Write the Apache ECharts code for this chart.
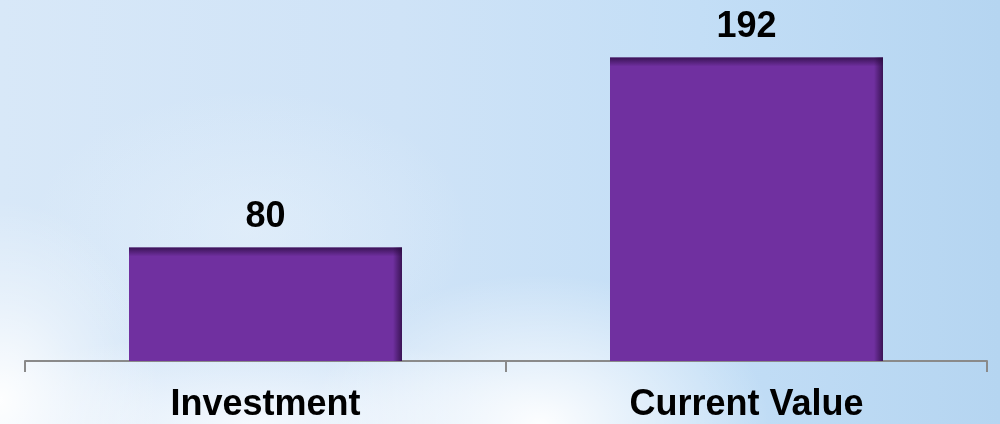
<!DOCTYPE html>
<html>
<head>
<meta charset="utf-8">
<script src="https://cdn.jsdelivr.net/npm/echarts@6/dist/echarts.min.js"></script>
<style>
  html, body { margin: 0; padding: 0; }
  #chart {
    width: 1000px; height: 424px;
    background:
      radial-gradient(ellipse 230px 150px at 540px 424px, rgba(255,255,255,0.95), rgba(255,255,255,0.5) 45%, rgba(255,255,255,0) 100%),
      radial-gradient(ellipse 160px 200px at 0px 400px, rgba(255,255,255,0.95), rgba(255,255,255,0.4) 50%, rgba(255,255,255,0) 100%),
      radial-gradient(ellipse 320px 90px at 250px 424px, rgba(250,252,255,0.85), rgba(250,252,255,0) 100%),
      radial-gradient(ellipse 220px 140px at 250px 230px, rgba(235,244,252,0.5), rgba(235,244,252,0) 100%),
      linear-gradient(to right, #d8e8f8 0%, #cfe3f7 40%, #c3def6 70%, #b5d5f1 100%);
  }
</style>
</head>
<body>
<div id="chart"></div>
<script>
const categories = ['Investment', 'Current Value'];
const values = [80, 192];

const chart = echarts.init(document.getElementById('chart'));
const FONT = "'Liberation Sans', Arial, sans-serif";
const Y_MIN = 13, Y_MAX = 220;
const BAR_W = 273;

function shade(params, api) {
  const idx = api.value(0);
  const v = api.value(1);
  const top = api.coord([idx, v]);
  const bot = api.coord([idx, Y_MIN]);
  const x0 = top[0] - BAR_W / 2;
  const h = bot[1] - top[1];
  const band = 9;
  return {
    type: 'group',
    children: [
      {
        type: 'rect',
        shape: { x: x0, y: top[1], width: BAR_W, height: band },
        style: {
          fill: new echarts.graphic.LinearGradient(0, 0, 0, 1, [
            { offset: 0, color: 'rgba(40,10,60,0.75)' },
            { offset: 1, color: 'rgba(40,10,60,0)' }
          ])
        }
      },
      {
        type: 'rect',
        shape: { x: x0 + BAR_W - band, y: top[1], width: band, height: h },
        style: {
          fill: new echarts.graphic.LinearGradient(0, 0, 1, 0, [
            { offset: 0, color: 'rgba(40,10,60,0)' },
            { offset: 1, color: 'rgba(40,10,60,0.75)' }
          ])
        }
      }
    ]
  };
}

chart.setOption({
  backgroundColor: 'transparent',
  animation: false,
  grid: { left: 25, right: 13, top: 10, bottom: 63 },
  xAxis: {
    type: 'category',
    data: categories,
    boundaryGap: true,
    axisLine: { show: true, lineStyle: { color: '#8a8a8a', width: 2 } },
    axisTick: { show: true, length: 11, lineStyle: { color: '#8a8a8a', width: 2 } },
    axisLabel: {
      margin: 26,
      color: '#000',
      fontFamily: FONT,
      fontWeight: 'bold',
      fontSize: 36
    }
  },
  yAxis: {
    type: 'value',
    min: Y_MIN,
    max: Y_MAX,
    show: false,
    splitLine: { show: false }
  },
  series: [
    {
      type: 'bar',
      data: values,
      barWidth: BAR_W,
      itemStyle: { color: '#7030A0' },
      label: {
        show: true,
        position: 'top',
        distance: 12,
        color: '#000',
        fontFamily: FONT,
        fontWeight: 'bold',
        fontSize: 36
      },
      z: 2
    },
    {
      type: 'custom',
      data: values.map((v, i) => [i, v]),
      renderItem: shade,
      silent: true,
      z: 3
    }
  ]
});
</script>
</body>
</html>
